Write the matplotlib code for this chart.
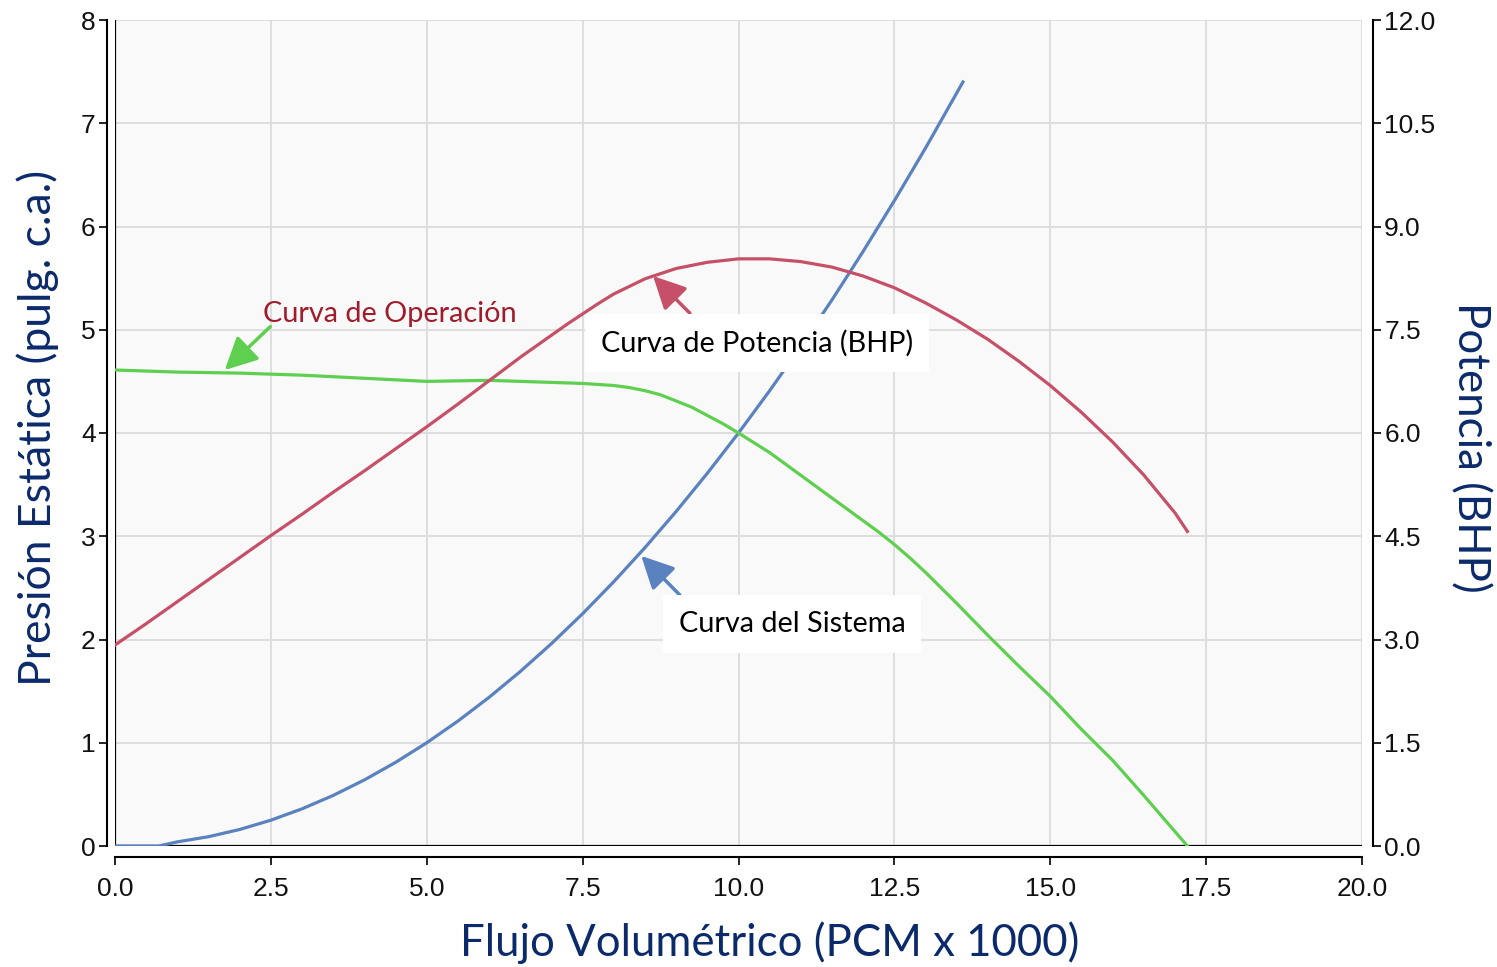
import matplotlib
matplotlib.use("Agg")
import matplotlib.pyplot as plt

# flujo volumetrico (PCM x 1000) vs presion / potencia
x_sistema = [0, 0.7, 1, 1.5, 2, 2.5, 3, 3.5, 4, 4.5, 5, 5.5, 6, 6.5, 7, 7.5, 8, 8.5,
             9, 9.5, 10, 10.5, 11, 11.5, 12, 12.5, 13, 13.6]
p_sistema = [0, 0.0, 0.04, 0.09, 0.16, 0.25, 0.36, 0.49, 0.64, 0.81, 1.0, 1.21, 1.44, 1.69,
             1.96, 2.25, 2.56, 2.89, 3.24, 3.61, 4.0, 4.41, 4.84, 5.29, 5.76, 6.25, 6.76, 7.4]

x_operacion = [0, 1, 2, 3, 4, 5, 6, 7, 7.5, 8, 8.25, 8.5, 8.75, 9, 9.25, 9.5, 9.75, 10,
               10.5, 11, 11.5, 12, 12.25, 12.5, 12.75, 13, 13.5, 14, 14.5, 15, 15.5, 16,
               16.5, 17, 17.2]
p_operacion = [4.61, 4.59, 4.58, 4.56, 4.53, 4.50, 4.51, 4.49, 4.48, 4.46, 4.44, 4.41, 4.37,
               4.31, 4.25, 4.17, 4.09, 4.00, 3.81, 3.59, 3.37, 3.15, 3.04, 2.92, 2.79, 2.65,
               2.35, 2.04, 1.74, 1.45, 1.13, 0.83, 0.49, 0.14, 0.0]

x_potencia = [0, 0.5, 1, 1.5, 2, 2.5, 3, 3.5, 4, 4.5, 5, 5.5, 6, 6.5, 7, 7.25, 7.5, 7.75,
              8, 8.5, 9, 9.5, 10, 10.5, 11, 11.5, 12, 12.5, 13, 13.5, 14, 14.5, 15, 15.5,
              16, 16.5, 17, 17.2]
bhp_potencia = [2.92, 3.23, 3.55, 3.87, 4.19, 4.51, 4.82, 5.14, 5.45, 5.77, 6.09, 6.42, 6.76,
                7.10, 7.42, 7.58, 7.73, 7.88, 8.02, 8.24, 8.39, 8.48, 8.53, 8.53, 8.49, 8.41,
                8.28, 8.11, 7.89, 7.64, 7.36, 7.04, 6.69, 6.30, 5.87, 5.39, 4.84, 4.57]

x_ticks = [0, 2.5, 5, 7.5, 10, 12.5, 15, 17.5, 20]
y_ticks = [0, 1, 2, 3, 4, 5, 6, 7, 8]
y2_ticks = [0, 1.5, 3, 4.5, 6, 7.5, 9, 10.5, 12]

# textos y flechas (coordenadas del eje izquierdo)
txt_operacion = (2.37, 5.15)
flecha_operacion = [(2.49, 5.03), (1.76, 4.61)]
txt_potencia = (10.30, 4.87)
flecha_potencia = [(9.22, 5.16), (8.63, 5.52)]
txt_sistema = (10.86, 2.15)
flecha_sistema = [(9.06, 2.43), (8.44, 2.81)]

verde = '#5fcf4f'
rojo = '#c55068'
azul = '#5a82bf'
navy = '#0b2a6b'

fig = plt.figure(figsize=(14.97, 9.67), dpi=100)
ax = fig.add_axes([115/1497, 1-846/967, (1362-115)/1497, (846-20)/967])
ax.set_facecolor('#f9f9f9')

ax.set_xlim(0, 20)
ax.set_ylim(0, 8)
ax.set_xticks(x_ticks)
ax.set_xticklabels(['%.1f' % t for t in x_ticks])
ax.set_yticks(y_ticks)
ax.grid(True, color='#dcdcdc', lw=1.3)
ax.set_axisbelow(True)

for s in ['top', 'right']:
    ax.spines[s].set_visible(False)
ax.spines['left'].set_position(('outward', 6))
ax.spines['bottom'].set_position(('outward', 8))
ax.spines['left'].set_linewidth(1.5)
ax.spines['bottom'].set_linewidth(1.5)
ax.tick_params(axis='both', width=1.3, length=6, labelsize=19, colors='#111111',
               labelfontfamily='Liberation Sans')
ax.tick_params(axis='y', pad=2)
ax.tick_params(axis='x', pad=8)

# bordes interiores del area de trazado
ax.axvline(0, color='black', lw=1.6, zorder=1.5)
ax.axhline(0, color='black', lw=1.6, zorder=1.5)

ax.plot(x_sistema, p_sistema, color=azul, lw=2.3, zorder=3)
ax.plot(x_operacion, p_operacion, color=verde, lw=2.3, zorder=3)

ax2 = ax.twinx()
ax2.set_ylim(0, 12)
ax2.set_yticks(y2_ticks)
ax2.set_yticklabels(['%.1f' % t for t in y2_ticks])
for s in ['top', 'left', 'bottom']:
    ax2.spines[s].set_visible(False)
ax2.spines['right'].set_position(('outward', 8))
ax2.spines['right'].set_linewidth(1.5)
ax2.tick_params(axis='y', width=1.3, length=6, labelsize=19, colors='#111111', pad=2,
                labelfontfamily='Liberation Sans')
ax2.plot(x_potencia, bhp_potencia, color=rojo, lw=2.3, zorder=3)

# anotaciones en coordenadas del eje izquierdo, dibujadas encima de todo
td = ax.transData
estilo = '-|>,head_length=0.9,head_width=0.45'

ax2.text(txt_operacion[0], txt_operacion[1], 'Curva de Operación', color='#a01c2a',
         fontsize=20.8, family='Lato', ha='left', va='center', transform=td)
ax2.annotate('', xy=flecha_operacion[1], xytext=flecha_operacion[0],
             xycoords=td, textcoords=td,
             arrowprops=dict(arrowstyle=estilo, color=verde, lw=2.5, mutation_scale=22,
                             shrinkA=0, shrinkB=0))

ax2.annotate('', xy=flecha_potencia[1], xytext=flecha_potencia[0],
             xycoords=td, textcoords=td,
             arrowprops=dict(arrowstyle=estilo, color=rojo, lw=2.5, mutation_scale=22,
                             shrinkA=0, shrinkB=0))
ax2.text(txt_potencia[0], txt_potencia[1], 'Curva de Potencia (BHP)', color='black',
         fontsize=20.8, family='Lato', ha='center', va='center', transform=td, zorder=5,
         bbox=dict(boxstyle='square,pad=0.55', facecolor='white', edgecolor='none'))

ax2.annotate('', xy=flecha_sistema[1], xytext=flecha_sistema[0],
             xycoords=td, textcoords=td,
             arrowprops=dict(arrowstyle=estilo, color=azul, lw=2.5, mutation_scale=22,
                             shrinkA=0, shrinkB=0))
ax2.text(txt_sistema[0], txt_sistema[1], 'Curva del Sistema', color='black',
         fontsize=20.8, family='Lato', ha='center', va='center', transform=td, zorder=5,
         bbox=dict(boxstyle='square,pad=0.55', facecolor='white', edgecolor='none'))

# titulos de ejes
fig.text(38/1497, 1-428/967, 'Presión Estática (pulg. c.a.)', rotation=90, color=navy,
         fontsize=32, family='Lato', ha='center', va='center')
fig.text(1470/1497, 1-447/967, 'Potencia (BHP)', rotation=-90, color=navy,
         fontsize=31.5, family='Lato', ha='center', va='center')
fig.text(770/1497, 1-943/967, 'Flujo Volumétrico (PCM x 1000)', color=navy,
         fontsize=31.5, family='Lato', ha='center', va='center')

fig.savefig('out.png', dpi=100)
